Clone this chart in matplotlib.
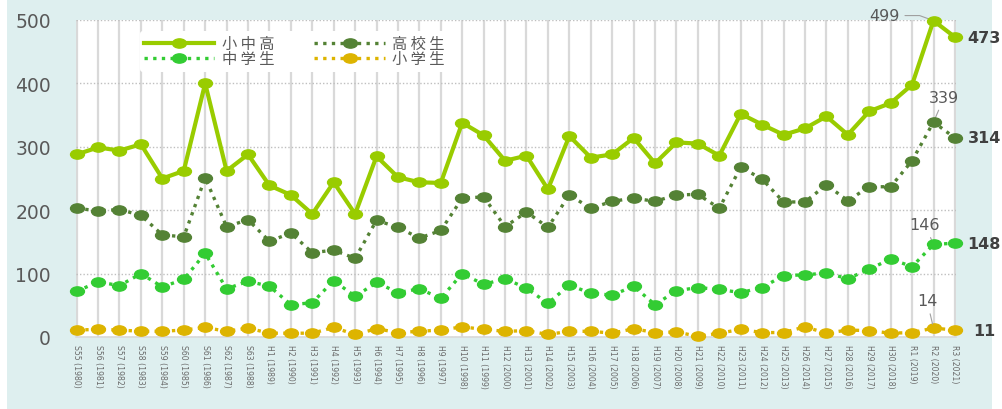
import numpy as np
import matplotlib
matplotlib.use("Agg")
import matplotlib.pyplot as plt
from matplotlib.path import Path
from matplotlib.transforms import Affine2D
from matplotlib.patches import Rectangle

plt.rcParams['font.family'] = ['DejaVu Sans', 'Noto Sans CJK JP']

years = ["S55 (1980)", "S56 (1981)", "S57 (1982)", "S58 (1983)", "S59 (1984)",
         "S60 (1985)", "S61 (1986)", "S62 (1987)", "S63 (1988)", "H1 (1989)",
         "H2 (1990)", "H3 (1991)", "H4 (1992)", "H5 (1993)", "H6 (1994)",
         "H7 (1995)", "H8 (1996)", "H9 (1997)", "H10 (1998)", "H11 (1999)",
         "H12 (2000)", "H13 (2001)", "H14 (2002)", "H15 (2003)", "H16 (2004)",
         "H17 (2005)", "H18 (2006)", "H19 (2007)", "H20 (2008)", "H21 (2009)",
         "H22 (2010)", "H23 (2011)", "H24 (2012)", "H25 (2013)", "H26 (2014)",
         "H27 (2015)", "H28 (2016)", "H29 (2017)", "H30 (2018)", "R1 (2019)",
         "R2 (2020)", "R3 (2021)"]

total = [288, 299, 294, 304, 250, 262, 400, 262, 288, 239, 224, 194, 244, 194,
         285, 252, 244, 243, 338, 318, 278, 286, 233, 317, 283, 288, 314, 274,
         307, 305, 286, 352, 335, 319, 329, 348, 319, 356, 369, 398, 499, 473]
high = [203, 199, 201, 192, 161, 158, 251, 174, 185, 151, 164, 133, 137, 124,
        184, 173, 156, 168, 219, 221, 174, 197, 173, 224, 203, 214, 219, 214,
        224, 225, 203, 268, 249, 213, 213, 240, 215, 237, 237, 278, 339, 314]
junior = [72, 87, 81, 100, 79, 91, 132, 76, 88, 80, 51, 54, 89, 64, 86, 70, 76,
          61, 100, 83, 92, 77, 53, 82, 69, 66, 80, 51, 73, 78, 75, 70, 78, 97,
          98, 101, 92, 107, 123, 111, 146, 148]
elem = [11, 12, 11, 9, 9, 11, 15, 9, 14, 6, 6, 6, 15, 4, 13, 7, 9, 11, 16, 12,
        9, 10, 4, 9, 9, 6, 13, 7, 8, 1, 6, 12, 7, 7, 16, 6, 11, 10, 6, 7, 14, 11]

x = np.arange(len(years))

# squashed circle, the source picture is stretched sideways
ell = Path.unit_circle().transformed(Affine2D().scale(1.5, 1.0))

fig = plt.figure(figsize=(10.03, 4.10), dpi=100)
fig.patches.append(Rectangle((7 / 1003, 0), 985 / 1003, 1, transform=fig.transFigure,
                             facecolor='#DEEFEF', edgecolor='none', zorder=-10))
ax = fig.add_axes([76 / 1003, 72 / 410, 880 / 1003, 317 / 410])
ax.set_facecolor('white')

series = [
    ("小 中 高", total, '#99CC00', '-', 3.0, 5),
    ("中 学 生", junior, '#33CC33', (0, (1, 1.6)), 2.4, 4),
    ("高 校 生", high, '#548235', (0, (1, 1.6)), 2.4, 4),
    ("小 学 生", elem, '#DDB400', (0, (1, 1.6)), 2.4, 3),
]
for name, vals, c, ls, lw, z in series:
    ax.plot(x, vals, color=c, linestyle=ls, linewidth=lw, marker=ell, markersize=10,
            markerfacecolor=c, markeredgecolor=c, label=name, zorder=z, clip_on=False)

ax.set_xlim(-0.03, 41.05)
ax.set_ylim(0, 500)
ax.set_yticks(range(0, 501, 100))
ax.set_xticks(x)
ax.set_xticklabels(years, rotation=-90, fontsize=5.6, color='#6a6a6a',
                   family=['Liberation Sans Narrow', 'DejaVu Sans'])
ax.tick_params(axis='x', length=0, pad=5)
ax.tick_params(axis='y', length=0, pad=18, labelsize=13.5, labelcolor='#595959')

ax.grid(axis='x', color='#D9D9D9', linewidth=1.6, zorder=1)
ax.grid(axis='y', color='#BFBFBF', linewidth=1.0, linestyle=(0, (1, 1.5)), zorder=1)
ax.set_axisbelow(True)
for s in ['left', 'right', 'top']:
    ax.spines[s].set_visible(False)
ax.spines['bottom'].set_color('#D9D9D9')
ax.spines['bottom'].set_linewidth(1.2)

leg = ax.legend(ncol=2, loc='upper left', bbox_to_anchor=(56 / 880, 314 / 317),
                frameon=True, facecolor='white', edgecolor='none', framealpha=1,
                handlelength=4.6, handletextpad=0.5, columnspacing=2.6,
                labelspacing=-0.12, borderpad=0.3, numpoints=1,
                prop={'family': ['Noto Sans CJK JP', 'DejaVu Sans'], 'size': 11})
for t in leg.get_texts():
    t.set_color('#595959')

# callouts for 2020
ax.annotate("499", xy=(40, total[40]), xytext=(37.7, 507), fontsize=11.5, color='#595959',
            ha='center', va='center', annotation_clip=False,
            arrowprops=dict(arrowstyle='-', color='#A0A0A0', lw=0.8, shrinkA=2, shrinkB=3,
                            connectionstyle='angle,angleA=0,angleB=160,rad=0'))
ax.annotate("339", xy=(40, high[40]), xytext=(40.5, 378), fontsize=11.5, color='#595959',
            ha='center', va='center', annotation_clip=False,
            arrowprops=dict(arrowstyle='-', color='#A0A0A0', lw=0.8, shrinkA=2, shrinkB=3))
ax.annotate("146", xy=(40, junior[40]), xytext=(39.6, 177), fontsize=11.5, color='#595959',
            ha='center', va='center', annotation_clip=False,
            arrowprops=dict(arrowstyle='-', color='#A0A0A0', lw=0.8, shrinkA=2, shrinkB=3))
ax.annotate("14", xy=(40, elem[40]), xytext=(39.7, 57), fontsize=11.5, color='#595959',
            ha='center', va='center', annotation_clip=False,
            arrowprops=dict(arrowstyle='-', color='#A0A0A0', lw=0.8, shrinkA=2, shrinkB=3))

# end labels for 2021
for vals in [total, high, junior, elem]:
    ax.annotate(str(vals[-1]), xy=(41, vals[-1]), xytext=(21, 0), textcoords='offset points',
                fontsize=11.5, fontweight='bold', color='#404040', va='center', ha='center',
                annotation_clip=False)

fig.savefig("out.png", dpi=100, facecolor='white')
